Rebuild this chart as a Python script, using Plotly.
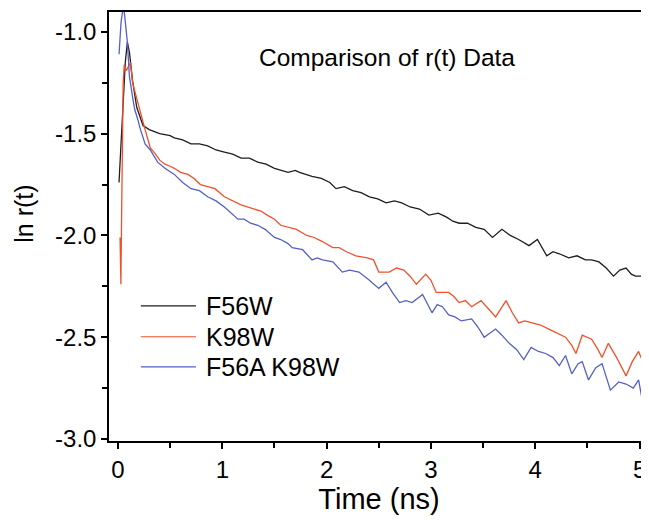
import plotly.graph_objects as go

# ---- data ----
t_f56w = [0.01, 0.03, 0.05, 0.07, 0.09, 0.11, 0.14, 0.18, 0.24, 0.30, 0.40, 0.50, 0.54, 0.62, 0.70, 0.78,
          0.86, 0.94, 1.02, 1.10, 1.18, 1.26, 1.34, 1.42, 1.50, 1.56, 1.63, 1.70, 1.74, 1.80, 1.86, 1.95,
          2.03, 2.09, 2.17, 2.25, 2.33, 2.41, 2.49, 2.57, 2.65, 2.72, 2.80, 2.89, 2.98, 3.07, 3.15, 3.21,
          3.27, 3.35, 3.43, 3.51, 3.59, 3.68, 3.76, 3.84, 3.94, 4.02, 4.11, 4.17, 4.23, 4.32, 4.40, 4.48,
          4.54, 4.61, 4.68, 4.75, 4.81, 4.87, 4.92, 4.96, 5.02, 5.07]
v_f56w = [-1.74, -1.55, -1.33, -1.15, -1.05, -1.10, -1.24, -1.37, -1.46, -1.48, -1.50, -1.51, -1.52, -1.53, -1.55, -1.55,
          -1.56, -1.58, -1.59, -1.60, -1.62, -1.62, -1.64, -1.65, -1.67, -1.68, -1.69, -1.68, -1.69, -1.70, -1.71, -1.72,
          -1.74, -1.77, -1.76, -1.78, -1.79, -1.81, -1.82, -1.84, -1.83, -1.84, -1.86, -1.87, -1.90, -1.89, -1.91, -1.93,
          -1.94, -1.94, -1.96, -1.97, -2.01, -1.97, -2.00, -2.02, -2.05, -2.02, -2.10, -2.08, -2.09, -2.11, -2.10, -2.12,
          -2.12, -2.13, -2.16, -2.20, -2.17, -2.16, -2.19, -2.20, -2.20, -2.23]

t_k98w = [0.02, 0.022, 0.025, 0.028, 0.035, 0.05, 0.06, 0.08, 0.10, 0.12, 0.14, 0.17, 0.21, 0.26, 0.31, 0.36,
          0.40, 0.45, 0.50, 0.54, 0.60, 0.67, 0.73, 0.79, 0.86, 0.93, 1.02, 1.10, 1.18, 1.24, 1.31, 1.37,
          1.43, 1.50, 1.56, 1.63, 1.71, 1.81, 1.88, 1.96, 2.06, 2.12, 2.19, 2.28, 2.39, 2.45, 2.50, 2.60,
          2.67, 2.74, 2.80, 2.86, 2.95, 3.00, 3.05, 3.17, 3.22, 3.27, 3.33, 3.39, 3.48, 3.55, 3.62, 3.72,
          3.78, 3.84, 3.90, 3.97, 4.05, 4.13, 4.21, 4.29, 4.35, 4.39, 4.45, 4.54, 4.60, 4.64, 4.70, 4.78,
          4.87, 4.93, 4.99, 5.03, 5.07]
v_k98w = [-2.01, -2.12, -2.08, -2.24, -1.90, -1.25, -1.16, -1.19, -1.17, -1.15, -1.25, -1.31, -1.38, -1.48, -1.57, -1.60,
          -1.63, -1.65, -1.66, -1.67, -1.69, -1.70, -1.72, -1.75, -1.76, -1.77, -1.81, -1.83, -1.85, -1.86, -1.87, -1.88,
          -1.90, -1.92, -1.95, -1.96, -1.97, -2.00, -2.01, -2.03, -2.06, -2.06, -2.08, -2.10, -2.11, -2.12, -2.18, -2.18,
          -2.16, -2.17, -2.20, -2.24, -2.19, -2.22, -2.28, -2.28, -2.30, -2.33, -2.32, -2.35, -2.32, -2.36, -2.40, -2.32,
          -2.38, -2.43, -2.42, -2.43, -2.44, -2.46, -2.48, -2.50, -2.54, -2.58, -2.49, -2.51, -2.56, -2.60, -2.53, -2.60,
          -2.69, -2.62, -2.57, -2.62, -2.67]

t_f56a = [0.01, 0.03, 0.05, 0.06, 0.09, 0.11, 0.14, 0.16, 0.19, 0.21, 0.26, 0.31, 0.38, 0.45, 0.54, 0.62,
          0.70, 0.78, 0.86, 0.94, 1.02, 1.08, 1.15, 1.21, 1.27, 1.34, 1.41, 1.50, 1.56, 1.63, 1.67, 1.77,
          1.86, 1.91, 1.96, 2.06, 2.15, 2.22, 2.31, 2.41, 2.50, 2.57, 2.63, 2.70, 2.76, 2.82, 2.92, 3.01,
          3.06, 3.11, 3.17, 3.23, 3.29, 3.39, 3.45, 3.51, 3.62, 3.68, 3.75, 3.82, 3.89, 3.96, 4.03, 4.10,
          4.17, 4.23, 4.29, 4.35, 4.41, 4.45, 4.51, 4.58, 4.64, 4.72, 4.80, 4.87, 4.94, 4.99, 5.04, 5.07]
v_f56a = [-1.11, -0.95, -0.88, -0.90, -1.05, -1.22, -1.32, -1.38, -1.43, -1.47, -1.55, -1.58, -1.64, -1.67, -1.70, -1.74,
          -1.77, -1.78, -1.81, -1.83, -1.86, -1.89, -1.92, -1.92, -1.94, -1.95, -1.97, -2.01, -2.02, -2.04, -2.06, -2.07,
          -2.12, -2.11, -2.12, -2.13, -2.18, -2.17, -2.18, -2.22, -2.26, -2.23, -2.28, -2.33, -2.32, -2.33, -2.29, -2.38,
          -2.34, -2.35, -2.39, -2.40, -2.42, -2.41, -2.45, -2.50, -2.46, -2.49, -2.53, -2.56, -2.61, -2.55, -2.57, -2.58,
          -2.60, -2.64, -2.59, -2.68, -2.63, -2.62, -2.71, -2.65, -2.63, -2.76, -2.72, -2.73, -2.75, -2.71, -2.85, -2.81]

series_names = ["F56W", "K98W", "F56A K98W"]
series_colors = ["#1e1e1e", "#f0512b", "#5560c4"]
legend_rows_y = [0.315, 0.243, 0.173]   # paper coords of the legend rows

FONT = "Liberation Sans, Arial, sans-serif"

fig = go.Figure()
shapes = []
annotations = []
for name, tx, vy, col, ly in zip(series_names, [t_f56w, t_k98w, t_f56a], [v_f56w, v_k98w, v_f56a],
                                 series_colors, legend_rows_y):
    fig.add_trace(go.Scatter(x=tx, y=vy, mode="lines", name=name,
                             line=dict(color=col, width=1.3), showlegend=False))
    # legend entry: sample line + label
    shapes.append(dict(type="line", xref="paper", yref="paper", x0=0.059, x1=0.161, y0=ly, y1=ly,
                       line=dict(color=col, width=1.2)))
    annotations.append(dict(text=name, xref="paper", yref="paper", x=0.176, y=ly, xanchor="left",
                            yanchor="middle", showarrow=False, font=dict(size=25, family=FONT)))

annotations.append(dict(text="Comparison of r(t) Data", x=0.515, y=0.893, xref="paper", yref="paper",
                        showarrow=False, font=dict(size=24.5, family=FONT), xanchor="center", yanchor="middle"))
annotations.append(dict(text="ln r(t)", x=-0.158, y=0.529, xref="paper", yref="paper", textangle=-90,
                        showarrow=False, font=dict(size=25, family=FONT), xanchor="center", yanchor="middle"))

# the page has an 8px body margin, so the figure is sized to fit the window
fig.update_layout(
    width=641, height=515,
    margin=dict(l=101, r=0, t=4, b=82),
    paper_bgcolor="white", plot_bgcolor="white",
    font=dict(family=FONT, color="black", size=24),
    showlegend=False,
    shapes=shapes,
    annotations=annotations,
)
fig.update_xaxes(
    range=[-0.086, 5.09], showgrid=False, zeroline=False,
    showline=True, linecolor="black", linewidth=1.5, mirror=True,
    ticks="outside", ticklen=6, tickwidth=1.5, tickcolor="black",
    tickmode="array", tickvals=[0, 1, 2, 3, 4, 5],
    minor=dict(tickmode="array", tickvals=[0.5, 1.5, 2.5, 3.5, 4.5], ticks="outside", ticklen=5, tickwidth=1.5, tickcolor="black", showgrid=False),
    tickfont=dict(size=24), title=dict(text="Time (ns)", font=dict(size=29), standoff=6),
)
fig.update_yaxes(
    range=[-3.010, -0.902], showgrid=False, zeroline=False,
    showline=True, linecolor="black", linewidth=1.5, mirror=False,
    ticks="outside", ticklen=6, tickwidth=1.5, tickcolor="black",
    tickmode="array", tickvals=[-3.0, -2.5, -2.0, -1.5, -1.0], ticktext=["-3.0", "-2.5", "-2.0", "-1.5", "-1.0"],
    minor=dict(tickmode="array", tickvals=[-2.75, -2.25, -1.75, -1.25], ticks="outside", ticklen=5, tickwidth=1.5, tickcolor="black", showgrid=False),
    tickfont=dict(size=24),
)

fig.write_html("out.html")
